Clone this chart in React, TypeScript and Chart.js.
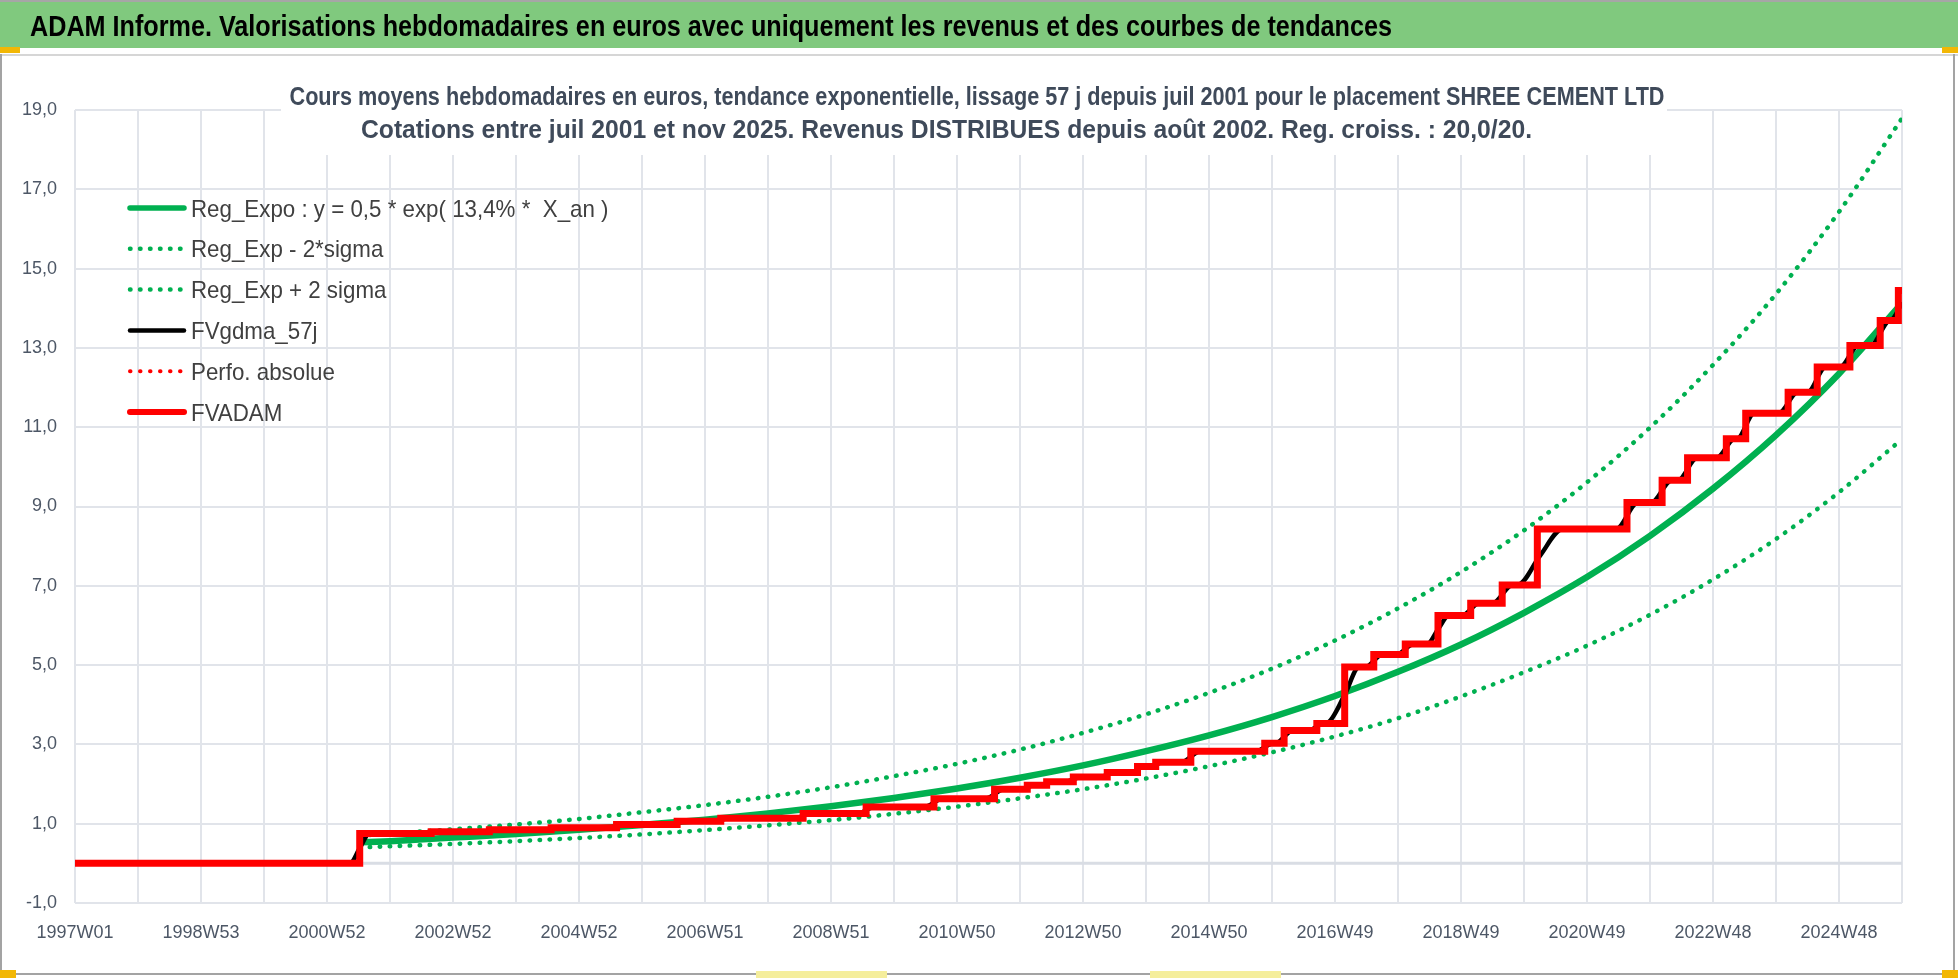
import React, { useEffect, useRef } from "react";
import { Chart, registerables } from "chart.js";

Chart.register(...registerables);

// ---------- texts ----------
const headerTitle =
  "ADAM Informe. Valorisations hebdomadaires en euros avec uniquement les revenus et des courbes de tendances";
const chartTitleLine1 =
  "Cours moyens hebdomadaires en euros, tendance exponentielle, lissage 57 j depuis juil 2001 pour le placement SHREE CEMENT LTD";
const chartTitleLine2 =
  "Cotations entre juil 2001 et nov 2025. Revenus DISTRIBUES depuis août 2002. Reg. croiss. : 20,0/20.";

const seriesNames = [
  "Reg_Expo : y = 0,5 * exp( 13,4% *  X_an )",
  "Reg_Exp - 2*sigma",
  "Reg_Exp + 2 sigma",
  "FVgdma_57j",
  "Perfo. absolue",
  "FVADAM",
];

// ---------- x axis (week index, 0 = 1997W01) ----------
const xTickLabels = [
  "1997W01", "1998W53", "2000W52", "2002W52", "2004W52", "2006W51", "2008W51", "2010W50",
  "2012W50", "2014W50", "2016W49", "2018W49", "2020W49", "2022W48", "2024W48",
];
const xLabelWeeks = [0, 104, 208, 312, 416, 520, 624, 728, 832, 936, 1040, 1144, 1248, 1352, 1456];
const xGridWeeks = [
  0, 52, 104, 156, 208, 260, 312, 364, 416, 468, 520, 572, 624, 676, 728, 780, 832, 884, 936, 988,
  1040, 1092, 1144, 1196, 1248, 1300, 1352, 1404, 1456, 1508,
];
const xMax = 1508;
const yMin = -1;
const yMax = 19;
const yStep = 2;

// ---------- FVADAM (step series) ----------
const fvadamWeeks = [
  0, 235, 294, 342, 393, 447, 497, 533, 601, 653, 709, 759, 786, 802, 824, 852, 877, 892, 921, 982,
  998, 1025, 1048, 1072, 1098, 1125, 1152, 1178, 1207, 1281, 1310, 1331, 1363, 1379, 1414, 1438,
  1465, 1490, 1505, 1508,
];
const fvadamValues = [
  0, 0.75, 0.8, 0.85, 0.9, 0.98, 1.06, 1.14, 1.26, 1.42, 1.63, 1.87, 1.97, 2.06, 2.18, 2.29, 2.44,
  2.55, 2.83, 3.03, 3.35, 3.53, 4.95, 5.27, 5.53, 6.25, 6.56, 7.02, 8.43, 9.1, 9.66, 10.23, 10.71,
  11.35, 11.88, 12.52, 13.06, 13.69, 14.45, 14.45,
];

// ---------- FVgdma_57j (smoothed) ----------
const gdmaWeeks = [
  0, 227, 235, 243, 287, 301, 335, 349, 386, 400, 440, 454, 490, 504, 526, 540, 594, 608, 646, 660,
  701, 716, 751, 767, 780, 792, 796, 808, 817, 831, 845, 859, 871, 883, 887, 898, 913, 929, 975, 989,
  991, 1005, 1018, 1030, 1034, 1048, 1060, 1065, 1079, 1091, 1105, 1116, 1125, 1134, 1145, 1159,
  1170, 1186, 1192, 1209, 1228, 1272, 1290, 1301, 1318, 1323, 1339, 1355, 1370, 1372, 1386, 1406,
  1422, 1430, 1445, 1457, 1472, 1482, 1497, 1500, 1508,
];
const gdmaValues = [
  0, 0, 0.38, 0.75, 0.75, 0.8, 0.8, 0.85, 0.85, 0.9, 0.9, 0.98, 0.98, 1.06, 1.06, 1.14, 1.14, 1.26,
  1.26, 1.42, 1.42, 1.63, 1.63, 1.87, 1.87, 1.97, 1.97, 2.06, 2.06, 2.18, 2.18, 2.29, 2.29, 2.44,
  2.44, 2.55, 2.55, 2.83, 2.83, 3.03, 3.03, 3.35, 3.35, 3.53, 3.55, 4.25, 4.95, 4.95, 5.27, 5.27,
  5.53, 5.53, 5.9, 6.25, 6.25, 6.56, 6.56, 7.02, 7.04, 7.75, 8.43, 8.43, 9.1, 9.1, 9.66, 9.66,
  10.23, 10.23, 10.71, 10.71, 11.35, 11.35, 11.88, 11.88, 12.52, 12.52, 13.06, 13.06, 13.69, 13.72,
  14.15,
];

// ---------- exponential trend and ±2 sigma ----------
const trendWeeks = [
  235, 260, 312, 364, 416, 468, 520, 572, 624, 676, 728, 780, 832, 884, 936, 988, 1040, 1092, 1144,
  1196, 1248, 1300, 1352, 1404, 1456, 1508,
];
const regExpoValues = [
  0.53, 0.56, 0.65, 0.74, 0.85, 0.97, 1.1, 1.26, 1.44, 1.65, 1.89, 2.16, 2.47, 2.83, 3.23, 3.69,
  4.22, 4.83, 5.52, 6.32, 7.22, 8.26, 9.45, 10.8, 12.35, 14.13,
];
const lowerValues = [
  0.4, 0.43, 0.49, 0.56, 0.64, 0.73, 0.84, 0.96, 1.09, 1.25, 1.43, 1.64, 1.87, 2.14, 2.45, 2.8,
  3.2, 3.66, 4.21, 4.82, 5.49, 6.27, 7.16, 8.18, 9.36, 10.7,
];
const upperValues = [
  0.7, 0.75, 0.86, 0.98, 1.12, 1.29, 1.47, 1.68, 1.92, 2.2, 2.51, 2.87, 3.29, 3.76, 4.3, 4.91, 5.62,
  6.43, 7.35, 8.4, 9.61, 10.99, 12.57, 14.36, 16.43, 18.79,
];

// ---------- styling ----------
const FONT = "'Liberation Sans', Arial, sans-serif";
const GREEN = "#00b050";
const RED = "#ff0000";
const GRID = "#e1e4ea";
const TICK_COLOR = "#4d5766";
const DOTS = [0.5, 9.5];

const pts = (xs: number[], ys: number[]) => xs.map((x, i) => ({ x, y: ys[i] }));

// draws text horizontally condensed by sx (Calibri-like narrow look)
function drawScaled(ctx: CanvasRenderingContext2D, text: string, x: number, y: number, sx: number, align: CanvasTextAlign) {
  ctx.save();
  ctx.translate(x, y);
  ctx.scale(sx, 1);
  ctx.textAlign = align;
  ctx.textBaseline = "alphabetic";
  ctx.fillText(text, 0, 0);
  ctx.restore();
}

const pagePlugin = {
  id: "pageDecor",
  beforeDraw(chart: any) {
    const { ctx, width, height } = chart;
    ctx.save();
    ctx.fillStyle = "#ffffff";
    ctx.fillRect(0, 0, width, height);
    // top header band
    ctx.fillStyle = "#a6a6a6";
    ctx.fillRect(0, 0, width, 2);
    ctx.fillStyle = "#80c97e";
    ctx.fillRect(0, 2, width, 46);
    ctx.fillStyle = "#000000";
    ctx.font = `bold 30px ${FONT}`;
    const hw = ctx.measureText(headerTitle).width;
    drawScaled(ctx, headerTitle, 30, 36, 1362 / hw, "left");
    // separator under header
    ctx.fillStyle = "#d6d6d6";
    ctx.fillRect(0, 54, width, 2);
    // frame
    ctx.fillStyle = "#a3a3a3";
    ctx.fillRect(0, 54, 2, height - 54);
    ctx.fillRect(width - 5, 54, 2, height - 54);
    ctx.fillRect(0, height - 5, width, 2);
    // selection handles
    ctx.fillStyle = "#f2b705";
    ctx.fillRect(0, 47, 20, 6);
    ctx.fillRect(width - 16, 47, 16, 6);
    ctx.fillRect(0, height - 8, 16, 8);
    ctx.fillRect(width - 16, height - 8, 16, 8);
    ctx.fillStyle = "#f5ee9c";
    ctx.fillRect(756, height - 7, 131, 7);
    ctx.fillRect(1150, height - 7, 131, 7);
    ctx.restore();
  },
  beforeDatasetsDraw(chart: any) {
    const { ctx, chartArea, scales } = chart;
    const y0 = scales.y.getPixelForValue(0);
    ctx.save();
    ctx.strokeStyle = "#d9dde4";
    ctx.lineWidth = 3;
    ctx.beginPath();
    ctx.moveTo(chartArea.left, y0);
    ctx.lineTo(chartArea.right, y0);
    ctx.stroke();
    ctx.restore();
  },
  afterDraw(chart: any) {
    const { ctx } = chart;
    ctx.save();
    // chart title with its white box
    ctx.fillStyle = "#ffffff";
    ctx.fillRect(281, 66, 1386, 89);
    ctx.fillStyle = "#3f4a5a";
    ctx.font = `bold 25px ${FONT}`;
    const tw1 = ctx.measureText(chartTitleLine1).width;
    const tw2 = ctx.measureText(chartTitleLine2).width;
    drawScaled(ctx, chartTitleLine1, 977, 105, 1375 / tw1, "center");
    drawScaled(ctx, chartTitleLine2, 361, 138, 1171 / tw2, "left");

    // legend inside the plot area
    const rowY0 = 208;
    const rowH = 40.8;
    chart.data.datasets.forEach((ds: any, i: number) => {
      const y = rowY0 + i * rowH;
      ctx.save();
      ctx.strokeStyle = ds.borderColor;
      ctx.lineWidth = ds.legendWidth;
      ctx.lineCap = "round";
      ctx.setLineDash(ds.borderDash || []);
      ctx.beginPath();
      ctx.moveTo(130, y);
      ctx.lineTo(184, y);
      ctx.stroke();
      ctx.restore();
      ctx.fillStyle = "#404040";
      ctx.font = `24px ${FONT}`;
      drawScaled(ctx, ds.label, 191, y + 8.5, 0.93, "left");
    });
    ctx.restore();
  },
};

export default function App() {
  const canvasRef = useRef<HTMLCanvasElement>(null);

  useEffect(() => {
    document.body.style.margin = "0";
    document.body.style.overflow = "hidden";
    const canvas = canvasRef.current;
    if (!canvas) return;

    const datasets: any[] = [
      {
        label: seriesNames[0],
        data: pts(trendWeeks, regExpoValues),
        borderColor: GREEN,
        borderWidth: 6.5,
        legendWidth: 5.5,
        cubicInterpolationMode: "monotone",
        order: 5,
      },
      {
        label: seriesNames[1],
        data: pts(trendWeeks, lowerValues),
        borderColor: GREEN,
        borderWidth: 4.5,
        legendWidth: 4.5,
        borderDash: DOTS,
        borderCapStyle: "round",
        cubicInterpolationMode: "monotone",
        order: 4,
      },
      {
        label: seriesNames[2],
        data: pts(trendWeeks, upperValues),
        borderColor: GREEN,
        borderWidth: 4.5,
        legendWidth: 4.5,
        borderDash: DOTS,
        borderCapStyle: "round",
        cubicInterpolationMode: "monotone",
        order: 3,
      },
      {
        label: seriesNames[3],
        data: pts(gdmaWeeks, gdmaValues),
        borderColor: "#000000",
        borderWidth: 4.5,
        legendWidth: 4.5,
        cubicInterpolationMode: "monotone",
        order: 2,
      },
      {
        label: seriesNames[4],
        data: pts(fvadamWeeks, fvadamValues),
        borderColor: RED,
        borderWidth: 4,
        legendWidth: 4,
        borderDash: DOTS,
        borderCapStyle: "round",
        stepped: "before",
        order: 1,
      },
      {
        label: seriesNames[5],
        data: pts(fvadamWeeks, fvadamValues),
        borderColor: RED,
        borderWidth: 7,
        legendWidth: 6,
        stepped: "before",
        order: 0,
      },
    ];

    const chart = new Chart(canvas, {
      type: "line",
      data: { datasets },
      options: {
        animation: false,
        responsive: false,
        events: [],
        layout: { padding: { left: 0, right: 56, top: 110, bottom: 25 } },
        elements: { point: { radius: 0 }, line: { borderJoinStyle: "miter" } },
        plugins: {
          legend: { display: false },
          title: { display: false },
          tooltip: { enabled: false },
        },
        scales: {
          x: {
            type: "linear",
            min: 0,
            max: xMax,
            border: { display: false },
            grid: { color: GRID, lineWidth: 2, drawTicks: false },
            afterBuildTicks: (scale: any) => {
              scale.ticks = xGridWeeks.map((v) => ({ value: v }));
            },
            afterFit: (scale: any) => {
              scale.height = 50;
            },
            ticks: {
              autoSkip: false,
              maxRotation: 0,
              minRotation: 0,
              padding: 19,
              color: TICK_COLOR,
              font: { family: FONT, size: 18 },
              callback: (value: any) => {
                const i = xLabelWeeks.indexOf(Number(value));
                return i >= 0 ? xTickLabels[i] : "";
              },
            },
          },
          y: {
            type: "linear",
            min: yMin,
            max: yMax,
            border: { display: false },
            grid: { color: GRID, lineWidth: 2, drawTicks: false },
            afterFit: (scale: any) => {
              scale.width = 75;
            },
            ticks: {
              stepSize: yStep,
              padding: 18,
              color: TICK_COLOR,
              font: { family: FONT, size: 18 },
              callback: (value: any) => Number(value).toFixed(1).replace(".", ","),
            },
          },
        },
      },
      plugins: [pagePlugin],
    } as any);

    return () => chart.destroy();
  }, []);

  return (
    <div style={{ width: 1958, height: 978, position: "relative", overflow: "hidden", background: "#fff" }}>
      <canvas ref={canvasRef} width={1958} height={978} style={{ display: "block", width: 1958, height: 978 }} />
    </div>
  );
}
